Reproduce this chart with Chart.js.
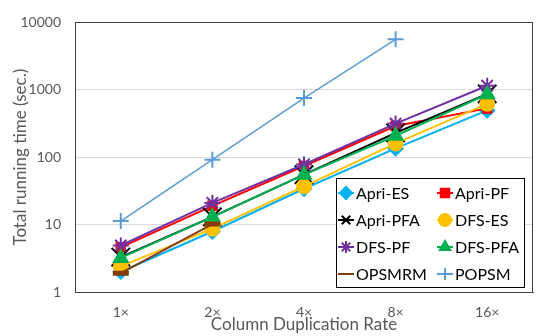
<!DOCTYPE html>
<html>
<head>
<meta charset="utf-8">
<script src="https://cdn.jsdelivr.net/npm/chart.js@4.4.1/dist/chart.umd.min.js"></script>
<style>
  html, body { margin: 0; padding: 0; background: #fff; }
  #wrap { width: 548px; height: 336px; position: relative; }
</style>
</head>
<body>
<div id="wrap"><canvas id="chartRun"></canvas></div>
<script>
const rates = ['1×', '2×', '4×', '8×', '16×'];
const yTicks = [1, 10, 100, 1000, 10000];

const apriES  = [2.0, 7.9, 34, 135, 495];
const apriPF  = [4.6, 19, 74, 290, 530];
const apriPFA = [3.3, 13, 55, 230, 870];
const dfsES   = [2.4, 8.7, 37, 160, 620];
const dfsPF   = [4.9, 21, 78, 315, 1150];
const dfsPFA  = [3.2, 13, 55, 208, 860];
const opsmrm  = [1.9, 10.2, null, null, null];
const popsm   = [11.3, 92, 755, 5600, null];

const series = [
  { label: 'Apri-ES',  data: apriES,  color: '#00b0f0', style: 'rectRot',  r: 7 },
  { label: 'Apri-PF',  data: apriPF,  color: '#ff0000', style: 'rect',     r: 6 },
  { label: 'Apri-PFA', data: apriPFA, color: '#000000', style: 'crossRot', r: 13 },
  { label: 'DFS-ES',   data: dfsES,   color: '#ffc000', style: 'circle',   r: 7 },
  { label: 'DFS-PF',   data: dfsPF,   color: '#7030a0', style: 'star',     r: 8 },
  { label: 'DFS-PFA',  data: dfsPFA,  color: '#00b050', style: 'triangle', r: 8 },
  { label: 'OPSMRM',   data: opsmrm,  color: '#843c0c', style: 'line',     r: 8 },
  { label: 'POPSM',    data: popsm,   color: '#5b9bd5', style: 'cross',    r: 8 }
];

const fontFam = 'Lato, "Open Sans", sans-serif';

// legend box inside the plot, two columns like the original
const boxLegend = {
  id: 'boxLegend',
  afterDraw(chart) {
    const ctx = chart.ctx;
    const x0 = 336, y0 = 178, w = 188, h = 109;
    ctx.save();
    ctx.fillStyle = '#fff';
    ctx.fillRect(x0, y0, w, h);
    ctx.strokeStyle = '#000';
    ctx.lineWidth = 1;
    ctx.strokeRect(x0 + 0.5, y0 + 0.5, w, h);
    ctx.font = '16px ' + fontFam;
    ctx.textBaseline = 'middle';
    series.forEach((s, i) => {
      const col = i % 2, row = Math.floor(i / 2);
      const mx = x0 + 10 + col * 99;
      const my = y0 + 15 + row * 27;
      ctx.strokeStyle = s.color;
      ctx.fillStyle = s.color;
      ctx.lineWidth = 2;
      ctx.beginPath();
      ctx.moveTo(mx - 8, my);
      ctx.lineTo(mx + 8, my);
      ctx.stroke();
      Chart.helpers.drawPoint(ctx, {
        pointStyle: s.style,
        radius: s.style === 'line' ? 8 : Math.min(s.r, 6),
        borderWidth: s.style === 'line' ? 4 : 2,
        rotation: 0
      }, mx, my);
      ctx.fillStyle = '#000';
      ctx.fillText(s.label, mx + 10, my + 1);
    });
    ctx.restore();
  }
};

const plotBorder = {
  id: 'plotBorder',
  beforeDatasetsDraw(chart) {
    const a = chart.chartArea, ctx = chart.ctx;
    ctx.save();
    ctx.strokeStyle = '#404040';
    ctx.lineWidth = 1;
    ctx.strokeRect(Math.round(a.left) + 0.5, Math.round(a.top) + 0.5,
      Math.round(a.right - a.left) - 1, Math.round(a.bottom - a.top));
    ctx.restore();
  }
};

const ctxRun = document.getElementById('chartRun').getContext('2d');
const chartRun = new Chart(ctxRun, {
  type: 'line',
  data: {
    labels: rates,
    datasets: series.map((s, i) => ({
      label: s.label,
      data: s.data,
      borderColor: s.color,
      backgroundColor: s.color,
      borderWidth: s.label === 'POPSM' ? 1.5 : 2,
      pointStyle: s.style,
      pointRadius: s.r,
      pointBorderWidth: s.style === 'line' ? 5 : 2,
      pointBackgroundColor: s.color,
      pointBorderColor: s.color,
      tension: 0,
      spanGaps: false,
      order: series.length - i
    }))
  },
  options: {
    responsive: true,
    maintainAspectRatio: false,
    animation: false,
    layout: { padding: { top: 7, right: 6, left: 0, bottom: 0 } },
    plugins: {
      legend: { display: false },
      tooltip: { enabled: false }
    },
    scales: {
      x: {
        offset: true,
        grid: { display: false, drawTicks: false },
        border: { display: true, color: '#404040' },
        ticks: { color: '#595959', font: { family: fontFam, size: 14 }, padding: 12, maxRotation: 0 },
        title: {
          display: true, text: 'Column Duplication Rate', color: '#595959',
          font: { family: fontFam, size: 17 }, padding: { top: 0, bottom: 1 }
        },
        afterFit(scale) { scale.height = 44; }
      },
      y: {
        type: 'logarithmic',
        min: 1,
        max: 10000,
        grid: { color: '#d9d9d9', drawTicks: false },
        border: { display: true, color: '#404040' },
        afterBuildTicks(scale) { scale.ticks = yTicks.map(v => ({ value: v })); },
        ticks: {
          color: '#595959', font: { family: fontFam, size: 14 }, padding: 14,
          callback: v => String(v)
        },
        title: {
          display: true, text: 'Total running time (sec.)', color: '#595959',
          font: { family: fontFam, size: 17 }, padding: { top: 10, bottom: 0 }
        },
        afterFit(scale) { scale.width = 75; }
      }
    }
  },
  plugins: [plotBorder, boxLegend]
});
</script>
</body>
</html>
